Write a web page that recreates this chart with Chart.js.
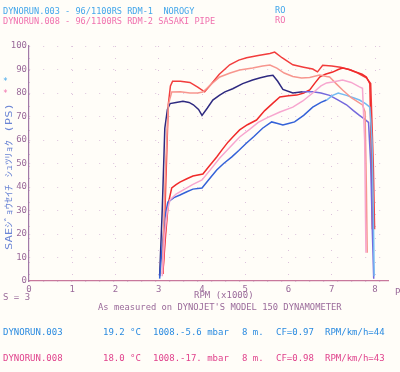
<!DOCTYPE html>
<html>
<head>
<meta charset="utf-8">
<script src="https://cdn.jsdelivr.net/npm/chart.js@4.4.0/dist/chart.umd.min.js"></script>
<style>
  html, body { margin: 0; padding: 0; background: #fffdf8; }
</style>
</head>
<body>
<canvas id="dyno" width="400" height="372"></canvas>
<script>
// Run 003 (blue) - upper curve
const navyRpm = [3.02, 3.08, 3.14, 3.20, 3.26, 3.40, 3.56, 3.70, 3.80, 3.92, 4.00, 4.12, 4.25, 4.40, 4.53, 4.71, 4.94, 5.17, 5.35, 5.52, 5.64, 5.75, 5.87, 6.10, 6.33, 6.56, 6.75, 6.95, 7.15, 7.34, 7.50, 7.64, 7.75, 7.85, 7.90, 7.94, 7.97];
const navyPs  = [2, 30, 65, 73, 75.5, 76, 76.5, 76, 75, 73, 70.5, 73.5, 77, 79, 80.5, 81.8, 84, 85.5, 86.5, 87.2, 87.5, 85, 81.5, 80, 80.5, 80.5, 80, 79, 77, 75, 72.5, 70.5, 69, 67.5, 50, 20, 1];

// Run 003 (blue) - lower curve
const blueRpm = [3.02, 3.08, 3.14, 3.21, 3.35, 3.49, 3.65, 3.79, 4.00, 4.15, 4.34, 4.50, 4.69, 4.85, 5.03, 5.20, 5.40, 5.61, 5.75, 5.87, 6.00, 6.14, 6.35, 6.56, 6.75, 6.88, 7.02, 7.15, 7.34, 7.50, 7.64, 7.78, 7.88, 7.93, 7.96, 7.98];
const bluePs  = [1, 15, 27, 33.5, 35.5, 36.6, 38, 39.1, 39.6, 43, 47.2, 50, 52.8, 55.5, 58.7, 61.5, 65, 67.7, 67, 66.4, 67, 67.7, 70.5, 74, 76, 77, 79, 80, 79, 78, 77, 75.5, 74, 60, 30, 2];

// Run 008 (red) - upper curves
const redTopRpm = [3.10, 3.16, 3.22, 3.27, 3.32, 3.50, 3.72, 3.90, 4.06, 4.20, 4.40, 4.64, 4.85, 5.03, 5.30, 5.57, 5.68, 5.85, 6.10, 6.35, 6.56, 6.67, 6.79, 7.00, 7.20, 7.40, 7.60, 7.80, 7.90, 7.96, 7.99];
const redTopPs  = [3, 40, 75, 83, 85, 85, 84.5, 82.5, 80.5, 83.5, 88, 92, 94, 95, 96, 96.8, 97.4, 95, 92, 91, 90.2, 89, 91.8, 91.5, 91, 90, 88.5, 86.5, 84, 50, 22];

const salmonRpm = [3.08, 3.15, 3.22, 3.30, 3.50, 3.72, 3.90, 4.02, 4.20, 4.41, 4.65, 4.87, 5.17, 5.40, 5.57, 5.73, 5.90, 6.10, 6.30, 6.49, 6.72, 6.88, 6.95, 7.10, 7.25, 7.45, 7.71, 7.77, 7.80, 7.82];
const salmonPs  = [3, 45, 75, 80.4, 80.5, 80, 80, 80.4, 83.5, 86.8, 88.5, 89.8, 90.6, 91.5, 91.9, 90.6, 88.5, 87, 86.4, 86.6, 87.7, 87, 86.8, 84, 81.3, 78, 74.9, 72, 40, 12];

// Run 008 (red) - lower curves
const redBotRpm = [3.10, 3.16, 3.22, 3.30, 3.40, 3.49, 3.65, 3.79, 4.02, 4.15, 4.34, 4.47, 4.60, 4.75, 4.87, 5.05, 5.26, 5.45, 5.64, 5.80, 6.00, 6.19, 6.35, 6.49, 6.60, 6.72, 6.85, 7.02, 7.15, 7.25, 7.40, 7.57, 7.70, 7.80, 7.88, 7.92, 7.94];
const redBotPs  = [5, 20, 33, 39.6, 41, 42.1, 43.5, 44.7, 45.5, 48.5, 52.8, 56, 59.1, 62, 64.3, 66.5, 68.5, 72.5, 75.7, 78.3, 78.8, 79.1, 80, 81.3, 84, 86.8, 88, 88.9, 90, 90.6, 90, 88.9, 88, 86.8, 84, 50, 22];

const pinkRpm = [3.08, 3.14, 3.20, 3.26, 3.40, 3.56, 3.78, 4.00, 4.20, 4.41, 4.65, 4.87, 5.10, 5.30, 5.50, 5.80, 6.10, 6.33, 6.56, 6.75, 6.88, 7.02, 7.25, 7.45, 7.64, 7.71, 7.76, 7.79];
const pinkPs  = [2, 20, 30, 34.5, 37, 38.7, 41, 43, 47.5, 52.3, 57, 61.3, 64.5, 67.5, 69.4, 71.9, 74, 76.6, 80, 83, 84.3, 84.7, 85.5, 84.5, 82.6, 82, 60, 12];

const rpmTicks = [0, 1, 2, 3, 4, 5, 6, 7, 8];

function pts(xs, ys) {
  return xs.map((x, i) => ({ x: x, y: ys[i] }));
}

function line(data, color, segColor) {
  const ds = {
    data: data,
    borderColor: color,
    borderWidth: 1.5,
    pointRadius: 0,
    showLine: true,
    tension: 0
  };
  if (segColor) ds.segment = { borderColor: segColor };
  return ds;
}

const purpleAxis = '#9a6a9a';
const mono = "'DejaVu Sans Mono', 'Noto Sans CJK JP', monospace";

// Extra text from the printout
const textPlugin = {
  id: 'dynoText',
  afterDraw(chart) {
    const ctx = chart.ctx;
    ctx.save();
    ctx.textBaseline = 'middle';
    ctx.textAlign = 'left';

    function put(str, x, y, color, size) {
      ctx.font = size + 'px ' + mono;
      ctx.fillStyle = color;
      ctx.fillText(str, x, y);
    }

    // header
    put('DYNORUN.003 - 96/1100RS RDM-1  NOROGY', 3, 12, '#43a6ea', 8.6);
    put('DYNORUN.008 - 96/1100RS RDM-2 SASAKI PIPE', 3, 22, '#f070ae', 8.6);
    put('RO', 275, 11, '#43a6ea', 8.6);
    put('RO', 275, 21, '#f070ae', 8.6);

    // axis texts
    put('S = 3', 3, 298, purpleAxis, 9);
    put('RPM (x1000)', 194, 296, purpleAxis, 9);
    put('P', 395, 293, purpleAxis, 9);
    put("As measured on DYNOJET'S MODEL 150 DYNAMOMETER", 98, 308, purpleAxis, 8.8);

    // rotated y title
    ctx.save();
    ctx.translate(10, 250);
    ctx.rotate(-Math.PI / 2);
    ctx.font = '9px ' + mono;
    const title = 'SAEｼﾞｮｳｾｲﾁ ｼｭﾂﾘｮｸ (PS)';
    const w = ctx.measureText(title).width;
    ctx.scale(147 / w, 1);
    ctx.fillStyle = '#6a84d4';
    ctx.fillText(title, 0, 0);
    ctx.restore();
    put('*', 3, 94, '#f070ae', 8);
    put('*', 3, 82, '#43a6ea', 8);

    // run conditions
    const rowBlue = '#2b8be0';
    const rowPink = '#e0428c';
    put('DYNORUN.003', 3, 333, rowBlue, 9);
    put('19.2 °C', 103, 333, rowBlue, 9);
    put('1008.-5.6 mbar', 153, 333, rowBlue, 9);
    put('8 m.', 242, 333, rowBlue, 9);
    put('CF=0.97', 276, 333, rowBlue, 9);
    put('RPM/km/h=44', 325, 333, rowBlue, 9);

    put('DYNORUN.008', 3, 359, rowPink, 9);
    put('18.0 °C', 103, 359, rowPink, 9);
    put('1008.-17. mbar', 153, 359, rowPink, 9);
    put('8 m.', 242, 359, rowPink, 9);
    put('CF=0.98', 276, 359, rowPink, 9);
    put('RPM/km/h=43', 325, 359, rowPink, 9);

    ctx.restore();
  }
};

new Chart(document.getElementById('dyno'), {
  type: 'scatter',
  data: {
    datasets: [
      line(pts(pinkRpm, pinkPs), '#f7a6cf'),
      line(pts(salmonRpm, salmonPs), '#f7968e'),
      line(pts(blueRpm, bluePs), '#3462d8',
        c => c.p0.parsed.x >= 6.8 ? '#74baf2' : '#3462d8'),
      line(pts(navyRpm, navyPs), '#2e2a80',
        c => c.p0.parsed.x >= 6.3 ? '#7468dc' : '#2e2a80'),
      line(pts(redBotRpm, redBotPs), '#f02a2a'),
      line(pts(redTopRpm, redTopPs), '#f23c3c')
    ]
  },
  options: {
    responsive: false,
    animation: false,
    layout: { padding: { left: 0, right: 12, top: 46, bottom: 71 } },
    plugins: {
      legend: { display: false },
      tooltip: { enabled: false }
    },
    scales: {
      x: {
        type: 'linear',
        min: 0,
        max: 8.3,
        afterBuildTicks: s => { s.ticks = rpmTicks.map(v => ({ value: v })); },
        afterFit: s => { s.height = 20; },
        ticks: { color: purpleAxis, font: { family: mono, size: 9 }, padding: 3 },
        grid: { color: '#dcc2dc', drawTicks: false },
        border: { color: '#c8789c', width: 1.2, dash: [1, 11] }
      },
      y: {
        min: 0,
        max: 100,
        afterFit: s => { s.width = 29; },
        ticks: { stepSize: 10, color: purpleAxis, font: { family: mono, size: 9 }, padding: 2 },
        grid: { color: '#dcc2dc', drawTicks: false },
        border: { color: '#a27aa8', width: 1.2, dash: [1, 13] }
      }
    }
  },
  plugins: [textPlugin]
});
</script>
</body>
</html>
